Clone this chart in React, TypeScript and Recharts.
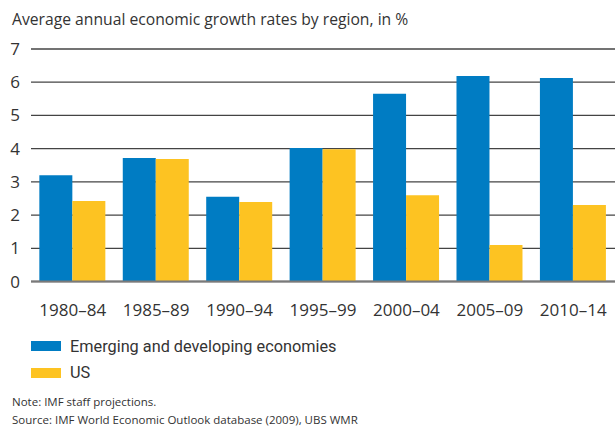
import React from "react";
import { BarChart, Bar, XAxis, YAxis, CartesianGrid } from "recharts";

const categories = ["1980–84", "1985–89", "1990–94", "1995–99", "2000–04", "2005–09", "2010–14"];
const emerging = [3.2, 3.72, 2.55, 4.02, 5.65, 6.19, 6.13];
const us = [2.42, 3.69, 2.39, 3.98, 2.6, 1.1, 2.3];
const yTicks = [0, 1, 2, 3, 4, 5, 6, 7];
const seriesNames = ["Emerging and developing economies", "US"];
const seriesColors = ["#007CC3", "#FDC322"];
const title = "Average annual economic growth rates by region, in %";
const notes = ["Note: IMF staff projections.", "Source: IMF World Economic Outlook database (2009), UBS WMR"];

const data = categories.map((c, i) => ({ cat: c, emerging: emerging[i], us: us[i] }));

const FONT = "'Open Sans', sans-serif";
const LEGEND_FONT = "Roboto, 'Open Sans', sans-serif";
const TEXT = "#333";

const XTick = (props: any) => {
  const { x, y, payload } = props;
  return (
    <text x={x} y={y} dy={26} textAnchor="middle" fontFamily={FONT} fontSize={17} fill={TEXT}>
      {payload.value}
    </text>
  );
};

const YTick = (props: any) => {
  const { y, payload } = props;
  return (
    <text x={20} y={y} dy={6} textAnchor="end" fontFamily={FONT} fontSize={17} fill={TEXT}>
      {payload.value}
    </text>
  );
};

export default function App() {
  return (
    <div style={{ position: "absolute", left: 0, top: 0, width: 615, height: 430, background: "#fff" }}>
      <BarChart
        width={615}
        height={430}
        data={data}
        margin={{ top: 49, right: 0, left: 0, bottom: 118.5 }}
        barCategoryGap="10%"
        barGap={0}
      >
        <CartesianGrid vertical={false} stroke="#444" strokeWidth={1.3} />
        <XAxis
          dataKey="cat"
          height={30}
          tickLine={false}
          axisLine={{ stroke: "#7a7a7a", strokeWidth: 2 }}
          tick={<XTick />}
          interval={0}
        />
        <YAxis
          width={31}
          domain={[0, 7]}
          ticks={yTicks}
          tickLine={false}
          axisLine={false}
          tick={<YTick />}
          interval={0}
        />
        <Bar dataKey="emerging" fill={seriesColors[0]} isAnimationActive={false} />
        <Bar dataKey="us" fill={seriesColors[1]} isAnimationActive={false} />
      </BarChart>
      <svg width={615} height={430} style={{ position: "absolute", left: 0, top: 0, pointerEvents: "none" }}>
        <text x={12} y={25} fontFamily={FONT} fontSize={15.7} fill={TEXT}>
          {title}
        </text>
        {seriesNames.map((n, i) => (
          <g key={n}>
            <rect x={31} y={341 + i * 27} width={30} height={10} fill={seriesColors[i]} />
            <text x={70} y={352 + i * 26} fontFamily={LEGEND_FONT} fontSize={16.3} fill={TEXT}>
              {n}
            </text>
          </g>
        ))}
        {notes.map((n, i) => (
          <text key={n} x={12} y={406 + i * 18} fontFamily={FONT} fontSize={11.5} fill={TEXT}>
            {n}
          </text>
        ))}
      </svg>
    </div>
  );
}
